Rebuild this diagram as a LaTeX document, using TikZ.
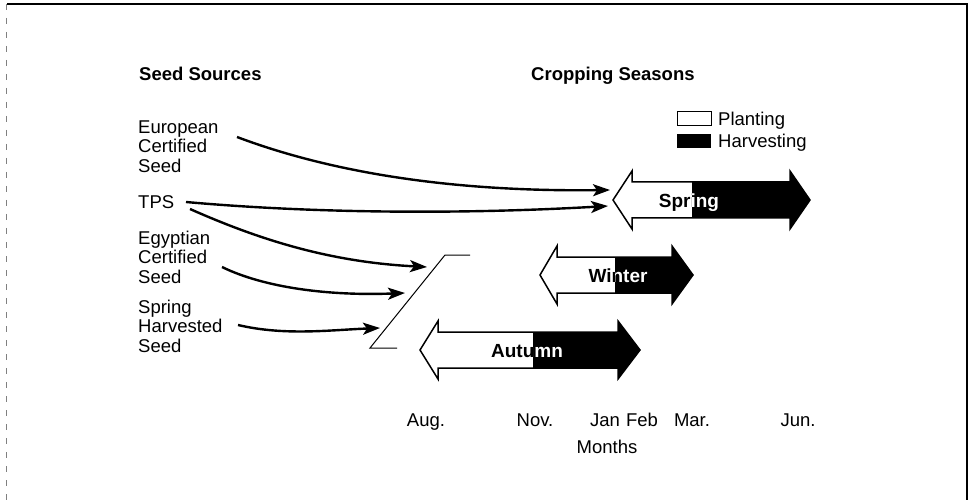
\documentclass[tikz,border=0pt]{standalone}
\usepackage{fontspec}
\setmainfont{Liberation Sans}
\usetikzlibrary{arrows.meta}
\newcommand\dblshape[5]{(#1,#5) -- (#2,#5-29) -- (#2,#5-18) -- (#3,#5-18) -- (#3,#5-29) -- (#4,#5) -- (#3,#5+29) -- (#3,#5+18) -- (#2,#5+18) -- (#2,#5+29) -- cycle}
\tikzset{
  lbl/.style={font=\fontsize{18.5}{19.5}\selectfont, inner sep=0pt, align=left},
  headtxt/.style={font=\bfseries\fontsize{18.5}{19.5}\selectfont, inner sep=0pt},
  conn/.style={line width=2.4pt, -{Stealth[length=17pt,width=12pt,inset=4pt]}},
  season/.style={font=\bfseries\fontsize{19}{20}\selectfont, inner sep=0pt, anchor=base},
  outline/.style={line width=1.5pt, line join=miter},
  legbox/.style={line width=1pt},
}
\begin{document}
\begin{tikzpicture}[x=1pt,y=-1pt]
\useasboundingbox (0,0) rectangle (970,500);
% frame
\draw[line width=2pt] (7,4) -- (967,4) -- (967,500);
\draw[gray, line width=1pt, dash pattern=on 6pt off 8pt] (6,4) -- (6,500);

% headings
\node[headtxt, anchor=base west] (hsrc) at (139,80.8) {Seed Sources};
\node[headtxt, anchor=base west] (hcrop) at (531,80.8) {Cropping Seasons};

% legend
\draw[legbox, fill=white] (677,112) rectangle (711,126);
\node[lbl, anchor=base west] (lplant) at (718,125.6) {Planting};
\fill[black] (677,134) rectangle (711,148);
\node[lbl, anchor=base west] (lharv) at (718,147.6) {Harvesting};

% seed sources
\node[lbl, anchor=north west] (euro) at (138,120.4) {European\\Certified\\Seed};
\node[lbl, anchor=west] (tps) at (138,202) {TPS};
\node[lbl, anchor=north west] (egy) at (138,230.4) {Egyptian\\Certified\\Seed};
\node[lbl, anchor=north west] (sph) at (138,299.4) {Spring\\Harvested\\Seed};

% bracket
\draw[line width=1pt] (470,255) -- (445,255) -- (370,348) -- (397,348);

% Spring arrow
\fill[white] \dblshape{613}{632}{790}{810}{200};
\begin{scope}
  \clip \dblshape{613}{632}{790}{810}{200};
  \fill[black] (692,150) rectangle (830,250);
\end{scope}
\node[season] (spring) at (689,207.5) {Spring};
\begin{scope}
  \clip (692,150) rectangle (830,250);
  \node[season, text=white] (springw) at (689,207.5) {Spring};
\end{scope}
\draw[outline] \dblshape{613}{632}{790}{810}{200};

% Winter arrow
\fill[white] \dblshape{540}{557}{672}{693}{275};
\begin{scope}
  \clip \dblshape{540}{557}{672}{693}{275};
  \fill[black] (615,230) rectangle (710,320);
\end{scope}
\node[season] (winter) at (618,282.5) {Winter};
\begin{scope}
  \clip (615,230) rectangle (710,320);
  \node[season, text=white] (winterw) at (618,282.5) {Winter};
\end{scope}
\draw[outline] \dblshape{540}{557}{672}{693}{275};

% Autumn arrow
\fill[white] \dblshape{420}{438}{618}{640}{350};
\begin{scope}
  \clip \dblshape{420}{438}{618}{640}{350};
  \fill[black] (533,300) rectangle (660,400);
\end{scope}
\node[season] (autumn) at (527,357.5) {Autumn};
\begin{scope}
  \clip (533,300) rectangle (660,400);
  \node[season, text=white] (autumnw) at (527,357.5) {Autumn};
\end{scope}
\draw[outline] \dblshape{420}{438}{618}{640}{350};

% connectors
\coordinate (eS) at (237,137);
\coordinate (eE) at (610,190);
\coordinate (t1S) at (186,202);
\coordinate (t1E) at (608,206);
\coordinate (t2S) at (190,209);
\coordinate (t2E) at (427,267);
\coordinate (gS) at (222,267);
\coordinate (gE) at (405,293);
\coordinate (hS) at (238,325);
\coordinate (hE) at (380,328);
\draw[conn] (eS) .. controls (330,172) and (450,192) .. (eE);
\draw[conn] (t1S) .. controls (320,214) and (470,214) .. (t1E);
\draw[conn] (t2S) .. controls (260,240) and (330,262) .. (t2E);
\draw[conn] (gS) .. controls (265,288) and (330,296) .. (gE);
\draw[conn] (hS) .. controls (285,336) and (330,330) .. (hE);

% months
\node[lbl, anchor=base] (aug) at (426,426.6) {Aug.};
\node[lbl, anchor=base] (nov) at (535,426.6) {Nov.};
\node[lbl, anchor=base] (jan) at (605,426.6) {Jan};
\node[lbl, anchor=base] (feb) at (642,426.6) {Feb};
\node[lbl, anchor=base] (mar) at (692,426.6) {Mar.};
\node[lbl, anchor=base] (jun) at (798,426.6) {Jun.};
\node[lbl, anchor=base] (months) at (607,453.6) {Months};
\end{tikzpicture}
\end{document}
